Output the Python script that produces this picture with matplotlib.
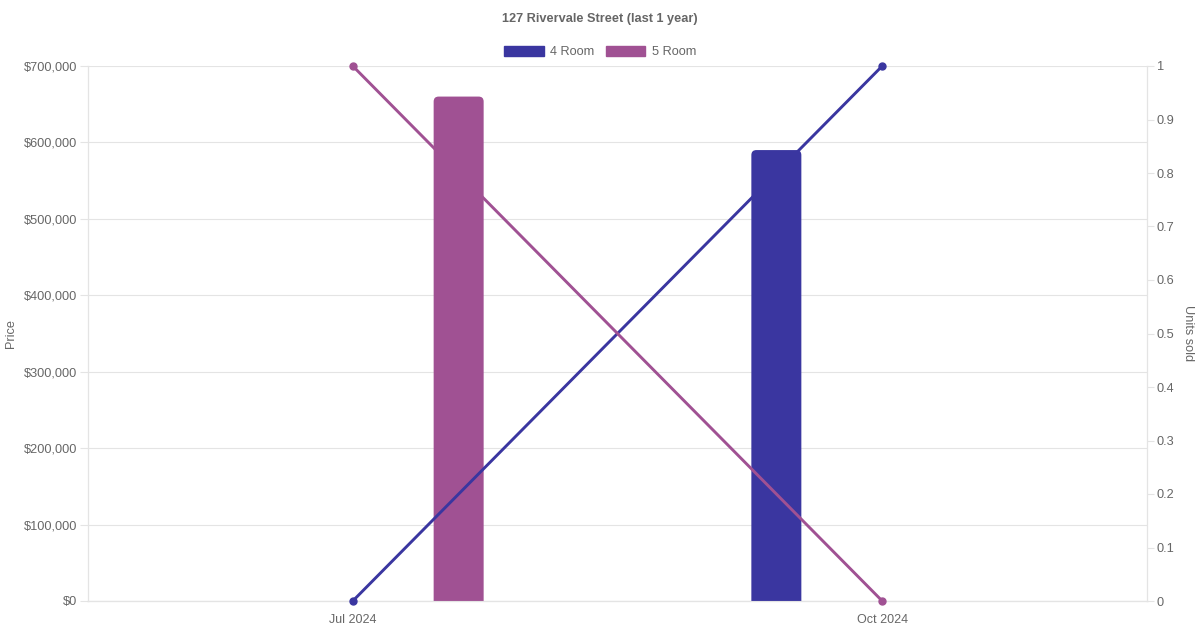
import numpy as np
import matplotlib.pyplot as plt
from matplotlib.patches import FancyBboxPatch, Patch

# chart values
months = ["Jul 2024", "Oct 2024"]
series = ["4 Room", "5 Room"]
price_4room = [np.nan, 590000]
price_5room = [660000, np.nan]
units_4room = [0, 1]
units_5room = [1, 0]

colors = ["#3a36a0", "#a05193"]
text_col = "#666666"
grid_col = "#e4e4e4"

plt.rcParams['font.family'] = ['Liberation Sans', 'DejaVu Sans']

fig = plt.figure(figsize=(12, 6.3), dpi=100)
ax = fig.add_axes([88 / 1200, 29 / 630, 1059 / 1200, 535 / 630])
ax2 = ax.twinx()

x = np.arange(len(months))
ax.set_xlim(-0.5, 1.5)
ax.set_ylim(0, 700000)
ax2.set_ylim(0, 1)

# bars with rounded tops
bar_w = 50 / 529.5
offset = 0.2
px_x = 1 / 529.5
px_y = 700000 / 535
radius = 5
for vals, off, c in zip([price_4room, price_5room], [-offset, offset], colors):
    bars = ax.bar(x + off, vals, width=bar_w, color=c)
    for rect in bars:
        h = rect.get_height()
        x0 = rect.get_x()
        rect.remove()
        if np.isnan(h):
            continue
        r = radius * px_x
        ry = radius * px_y
        box = FancyBboxPatch((x0 + r, 0), bar_w - 2 * r, h - ry,
                             boxstyle="round,pad=%f,rounding_size=%f" % (r, r),
                             mutation_aspect=px_y / px_x,
                             facecolor=c, edgecolor='none', zorder=3)
        ax.add_patch(box)

# unit lines on the right axis, drawn over the bars
for vals, c in zip([units_4room, units_5room], colors):
    ax2.plot(x, vals, color=c, lw=2.1, marker='o', ms=5, zorder=3, clip_on=False)

# axes styling
ax.set_xticks(x)
ax.set_xticklabels(months)
ax.tick_params(axis='x', length=0, pad=9.5, labelsize=9, colors=text_col)
yt = np.arange(0, 700001, 100000)
ax.set_yticks(yt)
ax.set_yticklabels(["$%s" % format(v, ",") for v in yt])
ax.tick_params(axis='y', length=6, width=0.8, color=grid_col, pad=2,
               labelsize=9.2, labelcolor=text_col)
ax.grid(axis='y', color=grid_col, lw=0.8)
ax.set_axisbelow(True)

ax2.set_yticks(np.linspace(0, 1, 11))
ax2.set_yticklabels(["0"] + ["%.1f" % v for v in np.linspace(0.1, 0.9, 9)] + ["1"])
ax2.tick_params(axis='y', length=5, width=0.8, color=grid_col, pad=2,
                labelsize=9.2, labelcolor=text_col)

for a in (ax, ax2):
    for s in a.spines.values():
        s.set_color(grid_col)
        s.set_linewidth(0.8)
    a.spines['top'].set_visible(False)
ax.spines['bottom'].set_color("#cccccc")

ax.set_ylabel("Price", color=text_col, fontsize=9.2, va='center')
ax.yaxis.set_label_coords(-77 / 1059, 0.5)
ax2.set_ylabel("Units sold", color=text_col, fontsize=9.2, rotation=270, va='center')
ax2.yaxis.set_label_coords(1 + 41 / 1059, 0.5)

fig.text(0.5, 1 - 19 / 630, "127 Rivervale Street (last 1 year)", ha='center', va='center',
         fontsize=9.2, fontweight='bold', color=text_col)

handles = [Patch(facecolor=c, edgecolor=c) for c in colors]
fig.legend(handles, series, loc='center', bbox_to_anchor=(0.5, 1 - 52 / 630), ncol=2,
           frameon=False, fontsize=9.2, labelcolor=text_col, handlelength=3.1,
           handleheight=0.9, handletextpad=0.5, columnspacing=0.9)

fig.savefig("out.png", dpi=100)
